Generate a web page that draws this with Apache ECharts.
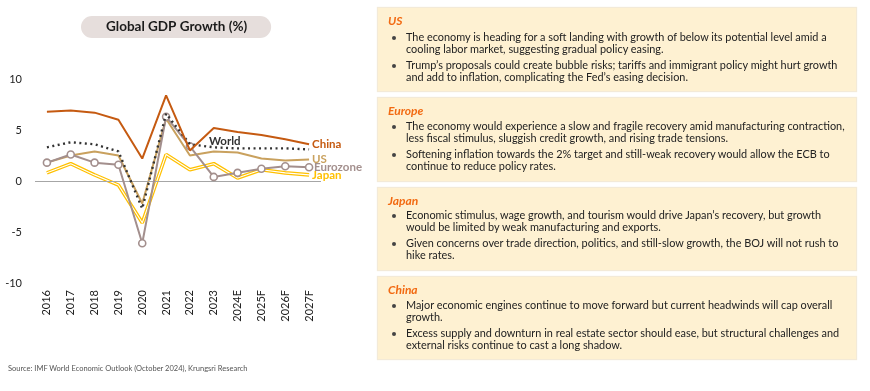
<!DOCTYPE html>
<html>
<head>
<meta charset="utf-8">
<script src="https://cdn.jsdelivr.net/npm/echarts@6/dist/echarts.min.js"></script>
<style>
  html, body { margin: 0; padding: 0; background: #fff; }
  body { width: 870px; height: 391px; position: relative; overflow: hidden; font-family: Lato, "Liberation Sans", sans-serif; }
  #chart { position: absolute; left: 0; top: 0; width: 870px; height: 391px; }
  .box { position: absolute; left: 378px; width: 478px; background: #FEF1D2; box-shadow: 0 0 1px 1px #F3EAD8; box-sizing: border-box; color: #222; }
  .box h4 { margin: 0; font-size: 12px; font-style: italic; font-weight: bold; color: #F26A12; position: absolute; left: 10px; line-height: 14px; }
  .box ul { margin: 0; padding: 0; list-style: none; position: absolute; left: 0; top: 0; }
  .box li { position: absolute; left: 28px; font-size: 10.9px; line-height: 12.4px; white-space: nowrap; }
  .box li::before { content: ""; position: absolute; left: -14px; top: 4.5px; width: 4px; height: 4px; border-radius: 50%; background: #444; }
  .src { position: absolute; left: 8px; top: 364px; font-size: 7.5px; color: #555; white-space: nowrap; }
</style>
</head>
<body>
<div id="chart"></div>

<div class="box" style="top:8px;height:83px;">
  <h4 style="top:6px;">US</h4>
  <ul>
    <li style="top:23px;">The economy is heading for a soft landing with growth of below its potential level amid a<br>cooling labor market, suggesting gradual policy easing.</li>
    <li style="top:51px;">Trump’s proposals could create bubble risks; tariffs and immigrant policy might hurt growth<br>and add to inflation, complicating the Fed’s easing decision.</li>
  </ul>
</div>
<div class="box" style="top:98px;height:83px;">
  <h4 style="top:6px;">Europe</h4>
  <ul>
    <li style="top:22px;">The economy would experience a slow and fragile recovery amid manufacturing contraction,<br>less fiscal stimulus, sluggish credit growth, and rising trade tensions.</li>
    <li style="top:50px;">Softening inflation towards the 2% target and still-weak recovery would allow the ECB to<br>continue to reduce policy rates.</li>
  </ul>
</div>
<div class="box" style="top:188px;height:82px;">
  <h4 style="top:6px;">Japan</h4>
  <ul>
    <li style="top:21px;">Economic stimulus, wage growth, and tourism would drive Japan’s recovery, but growth<br>would be limited by weak manufacturing and exports.</li>
    <li style="top:49px;">Given concerns over trade direction, politics, and still-slow growth, the BOJ will not rush to<br>hike rates.</li>
  </ul>
</div>
<div class="box" style="top:277px;height:82px;">
  <h4 style="top:6px;">China</h4>
  <ul>
    <li style="top:22px;">Major economic engines continue to move forward but current headwinds will cap overall<br>growth.</li>
    <li style="top:50px;">Excess supply and downturn in real estate sector should ease, but structural challenges and<br>external risks continue to cast a long shadow.</li>
  </ul>
</div>
<div class="src">Source: IMF World Economic Outlook (October 2024), Krungsri Research</div>

<script>
const categories = ['2016','2017','2018','2019','2020','2021','2022','2023','2024E','2025F','2026F','2027F'];
const china    = [6.8, 6.9, 6.7, 6.0, 2.2, 8.4, 3.0, 5.2, 4.8, 4.5, 4.1, 3.6];
const world    = [3.3, 3.8, 3.6, 2.9, -2.7, 6.6, 3.6, 3.3, 3.2, 3.2, 3.2, 3.1];
const us       = [1.8, 2.5, 2.9, 2.5, -2.2, 6.1, 2.5, 2.9, 2.8, 2.2, 2.0, 2.1];
const eurozone = [1.8, 2.6, 1.8, 1.6, -6.1, 6.3, 3.4, 0.4, 0.8, 1.2, 1.45, 1.35];
const japan    = [0.8, 1.7, 0.6, -0.4, -4.1, 2.6, 1.1, 1.7, 0.3, 1.1, 0.8, 0.6];
const yTicks = [-10, -5, 0, 5, 10];

const FONT = 'Lato, "Liberation Sans", sans-serif';
const chart = echarts.init(document.getElementById('chart'), null, { renderer: 'canvas' });

function endLbl(text, color) {
  return { show: true, formatter: text, color: color, fontWeight: 'bold', fontSize: 11.5, fontFamily: FONT, distance: 3 };
}

chart.setOption({
  animation: false,
  title: {
    text: 'Global GDP Growth (%)',
    left: 81, top: 16,
    backgroundColor: '#E6DEDC',
    borderRadius: 11,
    padding: [4, 24, 4, 25],
    textStyle: { fontFamily: FONT, fontSize: 13.5, fontWeight: 'bold', color: '#1a1a1a', lineHeight: 14 }
  },
  grid: { left: 35, right: 549, top: 79, bottom: 108 },
  xAxis: {
    type: 'category',
    data: categories,
    boundaryGap: true,
    axisLine: { show: false, onZero: false },
    axisTick: { show: false },
    axisLabel: { rotate: 90, fontSize: 11, color: '#222', fontFamily: FONT, margin: 7 }
  },
  yAxis: {
    type: 'value',
    min: -10, max: 10, interval: 5,
    splitLine: { show: false },
    axisLine: { show: false },
    axisTick: { show: false },
    axisLabel: { fontSize: 11, color: '#222', fontFamily: FONT, margin: 13,
      formatter: v => yTicks.includes(v) ? String(v) : '' }
  },
  series: [
    {
      name: 'zero', type: 'line', data: [], silent: true,
      markLine: { symbol: 'none', silent: true, label: { show: false },
        lineStyle: { color: '#A6A6A6', width: 1, type: 'solid' }, data: [{ yAxis: 0 }] }
    },
    {
      name: 'Japan', type: 'line', data: japan, symbol: 'none', z: 2,
      lineStyle: { color: '#FFC000', width: 3.6 },
      endLabel: endLbl('Japan', '#FFC000')
    },
    {
      name: 'Japan inner', type: 'line', data: japan, symbol: 'none', z: 3,
      lineStyle: { color: '#FFFFFF', width: 1.1 }
    },
    {
      name: 'US', type: 'line', data: us, symbol: 'none', z: 4,
      lineStyle: { color: '#C9A15E', width: 2 },
      endLabel: endLbl('US', '#C9A15E')
    },
    {
      name: 'Eurozone', type: 'line', data: eurozone, z: 5,
      symbol: 'circle', symbolSize: 7,
      itemStyle: { color: '#FFFFFF', borderColor: '#A38F8D', borderWidth: 1.6 },
      lineStyle: { color: '#A38F8D', width: 2 },
      endLabel: Object.assign(endLbl('Eurozone', '#A38F8D'), { distance: 5 })
    },
    {
      name: 'World', type: 'line', data: world, symbol: 'none', z: 6,
      lineStyle: { color: '#333333', width: 2.4, type: [2, 3.5] },
      label: { show: false },
      markPoint: {
        symbol: 'circle', symbolSize: 0,
        label: { show: true, formatter: 'World', color: '#333', fontSize: 11.5, fontWeight: 'bold', fontFamily: FONT, offset: [11, -6] },
        data: [{ coord: ['2023', 3.3] }]
      }
    },
    {
      name: 'China', type: 'line', data: china, symbol: 'none', z: 7,
      lineStyle: { color: '#C55A11', width: 2 },
      endLabel: endLbl('China', '#C55A11')
    }
  ]
});
</script>
</body>
</html>
